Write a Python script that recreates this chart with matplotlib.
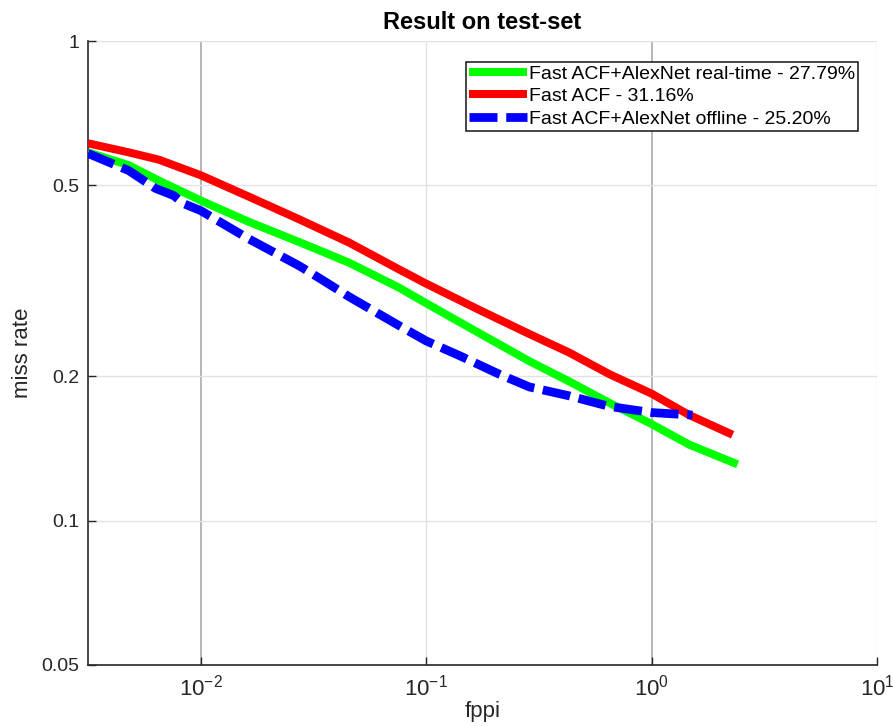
import matplotlib
matplotlib.use("Agg")
import matplotlib.pyplot as plt

plt.rcParams['font.family'] = ['Liberation Sans', 'DejaVu Sans']
plt.rcParams['mathtext.default'] = 'regular'

# False positives per image (x) and miss rate (y) for each detector
fppi_realtime = [0.00316, 0.00479, 0.0065, 0.01, 0.0163, 0.0273, 0.0341, 0.0455,
                 0.0759, 0.1, 0.172, 0.287, 0.432, 0.650, 1.0, 1.47, 2.41]
miss_realtime = [0.586, 0.551, 0.512, 0.465, 0.420, 0.381, 0.365, 0.345,
                 0.306, 0.284, 0.246, 0.215, 0.195, 0.176, 0.159, 0.144, 0.131]

fppi_acf = [0.00316, 0.00479, 0.0065, 0.01, 0.0163, 0.0273, 0.0455, 0.0759,
            0.1, 0.172, 0.287, 0.432, 0.650, 1.0, 1.47, 2.29]
miss_acf = [0.612, 0.586, 0.566, 0.525, 0.474, 0.425, 0.380, 0.334,
            0.312, 0.275, 0.245, 0.224, 0.202, 0.184, 0.166, 0.151]

fppi_offline = [0.00316, 0.00479, 0.0063, 0.0076, 0.0084, 0.01, 0.0163, 0.0273,
                0.0341, 0.0455, 0.0759, 0.1, 0.140, 0.211, 0.287, 0.432, 0.650,
                1.0, 1.52]
miss_offline = [0.583, 0.537, 0.493, 0.476, 0.458, 0.443, 0.387, 0.340,
                0.319, 0.293, 0.255, 0.237, 0.221, 0.202, 0.190, 0.182, 0.173,
                0.168, 0.166]

labels = ['Fast ACF+AlexNet real-time - 27.79%',
          'Fast ACF - 31.16%',
          'Fast ACF+AlexNet offline - 25.20%']

y_ticks = [0.05, 0.1, 0.2, 0.5, 1]
y_tick_labels = ['0.05', '0.1', '0.2', '0.5', '1']
x_ticks = [0.01, 0.1, 1, 10]

fig = plt.figure(figsize=(8.93, 7.27), dpi=100)
ax = fig.add_axes([0.0985, 0.0853, 0.8835, 0.8583])

ax.plot(fppi_realtime, miss_realtime, color='#00ff00', lw=5.8,
        solid_capstyle='butt', label=labels[0], zorder=3)
ax.plot(fppi_acf, miss_acf, color='#ff0000', lw=5.8,
        solid_capstyle='butt', label=labels[1], zorder=3)
ax.plot(fppi_offline, miss_offline, color='#0000ff', lw=6.3,
        linestyle=(0, (3.2, 1.0)), dash_capstyle='butt', label=labels[2], zorder=4)

ax.set_xscale('log')
ax.set_yscale('log')
ax.set_xlim(10 ** -2.5, 10)
ax.set_ylim(0.05, 1)

ax.set_yticks(y_ticks)
ax.set_yticklabels(y_tick_labels)
ax.yaxis.set_minor_locator(matplotlib.ticker.NullLocator())
ax.set_xticks(x_ticks)
ax.xaxis.set_minor_locator(matplotlib.ticker.NullLocator())

ax.tick_params(direction='in', length=6, width=1, colors='#262626',
               labelsize=14, labelcolor='#262626')
ax.tick_params(axis='x', pad=7, labelsize=16)
ax.tick_params(axis='y', pad=6)

ax.grid(True, which='major', color='#e2e2e2', lw=1.0, zorder=0)
for gl, tick in zip(ax.xaxis.get_gridlines(), x_ticks):
    if tick in (0.01, 1):
        gl.set_color('#b5b5b5')
        gl.set_linewidth(1.4)
ax.set_axisbelow(True)

for side in ('top', 'right'):
    ax.spines[side].set_visible(False)
for side in ('left', 'bottom'):
    ax.spines[side].set_color('#262626')
    ax.spines[side].set_linewidth(1.2)

ax.set_xlabel('fppi', fontsize=16, color='#262626', labelpad=0)
ax.set_ylabel('miss rate', fontsize=16, color='#262626', labelpad=6)
ax.set_title('Result on test-set', fontsize=17, fontweight='bold', pad=9)

leg = ax.legend(loc='upper right', bbox_to_anchor=(0.976, 0.966),
                fontsize=14, handlelength=3.0, handletextpad=0.1,
                labelspacing=0.25, borderpad=0.15, borderaxespad=0,
                fancybox=False, framealpha=1, edgecolor='#262626')
leg.get_frame().set_linewidth(1.2)

fig.savefig('out.png', dpi=100)
